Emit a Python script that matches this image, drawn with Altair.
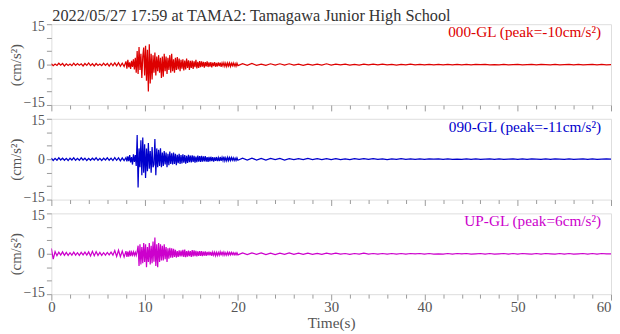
import altair as alt
import numpy as np
import pandas as pd

TITLE = "2022/05/27 17:59 at TAMA2: Tamagawa Junior High School"
Y_TITLE = "(cm/s²)"
X_TITLE = "Time(s)"

# sampling: 0-8 s every 0.2 s, 8-20 s every 0.1 s, 20-60 s every 0.5 s
T_PRE = np.round(np.arange(40) * 0.2, 2)
T_MAIN = np.round(8 + np.arange(120) * 0.1, 2)
T_TAIL = np.round(20 + np.arange(81) * 0.5, 2)
TIME = np.concatenate([T_PRE, T_MAIN, T_TAIL])

# ---- 000-GL (NS) ----
NS_LABEL = "000-GL (peak=-10cm/s²)"
NS_PRE = [0.3, -0.4, 0.2, -0.3, 0.5, -0.2, 0.4, -0.5, 0.3, -0.3,
          0.2, -0.4, 0.5, -0.3, 0.4, -0.2, 0.3, -0.5, 0.4, -0.3,
          0.6, -0.4, 0.3, -0.5, 0.4, -0.3, 0.2, -0.4, 0.5, -0.3,
          0.4, -0.6, 0.5, -0.4, 0.6, -0.5, 0.7, -0.6, 0.5, -0.7]
NS_MAIN = [1.2, -1.5, 1.8, -1.0, 0.8, -1.6, 1.4, -0.9, 2.0, -1.8,
           2.5, -3.0, 5.0, -3.5, 6.5, -2.0, 4.0, -5.0, 3.0, 6.3,
           -4.0, 7.0, -6.0, 5.5, -10.0, 7.5, -7.0, 4.0, -5.5, 3.5,
           -3.0, 4.5, -4.0, 3.0, -2.5, 3.5, -3.0, 2.5, -5.0, 3.0,
           -4.5, 4.0, -2.5, 3.0, -3.5, 2.5, -2.0, 3.5, -3.0, 4.0,
           -2.5, 2.0, -3.0, 2.5, -2.0, 2.8, -1.8, 2.2, -2.5, 1.8,
           -1.5, 2.0, -2.2, 1.5, -1.8, 2.2, -1.2, 1.6, -2.0, 1.4,
           -1.2, 1.5, -1.6, 1.2, -1.0, 1.8, -1.4, 1.0, -1.2, 1.3,
           -1.0, 1.2, -0.8, 1.0, -1.1, 0.9, -0.7, 1.2, -0.9, 0.8,
           -0.8, 0.9, -1.0, 0.7, -0.6, 0.9, -0.8, 0.6, -0.7, 0.8,
           -0.6, 0.7, -0.8, 0.6, -0.5, 0.7, -0.6, 0.5, -0.7, 0.6,
           -0.5, 0.6, -0.7, 0.5, -0.4, 0.6, -0.5, 0.4, -0.6, 0.5]
NS_TAIL = [-0.4, 0.3, -0.3, 0.4, -0.3, 0.2, -0.3, 0.3, -0.2, 0.3,
           -0.2, 0.3, -0.2, 0.2, -0.3, 0.2, -0.2, 0.2, -0.2, 0.3,
           -0.2, 0.2, -0.1, 0.2, -0.2, 0.1, -0.2, 0.2, -0.1, 0.2,
           -0.1, 0.2, -0.1, 0.1, -0.2, 0.1, -0.1, 0.2, -0.1, 0.1,
           -0.1, 0.1, -0.1, 0.1, -0.1, 0.1, -0.1, 0.1, -0.1, 0.1,
           -0.1, 0.1, 0.0, 0.1, -0.1, 0.0, -0.1, 0.1, -0.1, 0.0,
           0.1, -0.1, 0.0, 0.1, -0.1, 0.1, 0.0, -0.1, 0.1, -0.1,
           0.0, 0.1, -0.1, 0.1, -0.1, 0.0, 0.1, -0.1, 0.1, -0.1, 0.0]

# ---- 090-GL (EW) ----
EW_LABEL = "090-GL (peak=-11cm/s²)"
EW_PRE = [0.4, -0.5, 0.3, -0.4, 0.5, -0.3, 0.4, -0.4, 0.3, -0.5,
          0.4, -0.3, 0.5, -0.4, 0.3, -0.4, 0.5, -0.3, 0.4, -0.5,
          0.3, -0.4, 0.4, -0.3, 0.5, -0.4, 0.3, -0.5, 0.4, -0.3,
          0.5, -0.4, 0.4, -0.5, 0.6, -0.4, 0.5, -0.6, 0.5, -0.5]
EW_MAIN = [0.6, -0.8, 1.0, -0.7, 1.5, -1.2, 0.8, -2.0, 1.8, -1.0,
           1.5, -2.5, 9.0, -10.5, 4.0, -3.0, 7.0, -6.0, 8.0, -5.0,
           5.5, -7.0, 4.0, -4.5, 6.0, -3.5, 3.0, -5.0, 4.5, -3.0,
           -2.0, 7.5, -6.0, 4.0, -3.0, 3.5, -2.5, 4.0, -3.0, 2.5,
           -2.5, 3.0, -2.0, 2.5, -3.0, 2.0, -2.2, 2.8, -1.8, 2.2,
           -2.0, 2.5, -1.8, 2.0, -2.2, 1.6, -1.5, 2.0, -1.8, 1.5,
           -1.6, 1.8, -1.3, 1.5, -1.7, 1.2, -1.4, 1.6, -1.1, 1.3,
           -1.2, 1.4, -1.0, 1.2, -1.3, 1.0, -1.1, 1.3, -0.9, 1.1,
           -1.0, 1.2, -0.9, 1.0, -0.8, 1.1, -0.9, 0.8, -1.0, 0.9,
           -0.8, 0.9, -0.7, 0.8, -0.9, 0.7, -0.6, 0.8, -0.7, 0.6,
           -0.7, 0.8, -0.6, 0.7, -0.5, 0.9, -0.6, 0.5, -0.6, 0.7,
           -0.5, 0.6, -0.5, 0.6, -0.4, 0.5, -0.5, 0.4, -0.5, 0.5]
EW_TAIL = [-0.4, 0.4, -0.3, 0.4, -0.3, 0.3, -0.3, 0.3, -0.2, 0.3,
           -0.3, 0.2, -0.2, 0.2, -0.2, 0.3, -0.2, 0.2, -0.2, 0.2,
           -0.2, 0.2, -0.2, 0.1, -0.2, 0.2, -0.1, 0.2, -0.1, 0.2,
           -0.1, 0.1, -0.2, 0.1, -0.1, 0.2, -0.1, 0.1, -0.1, 0.1,
           -0.1, 0.1, 0.0, 0.1, -0.1, 0.1, -0.1, 0.0, -0.1, 0.1,
           -0.1, 0.1, -0.1, 0.0, 0.1, -0.1, 0.1, -0.1, 0.0, 0.1,
           -0.1, 0.1, -0.1, 0.1, 0.0, -0.1, 0.1, -0.1, 0.1, 0.0,
           -0.1, 0.1, -0.1, 0.0, 0.1, -0.1, 0.1, -0.1, 0.0, 0.1, 0.0]

# ---- UP-GL (UD) ----
UD_LABEL = "UP-GL (peak=6cm/s²)"
UD_PRE = [2.0, -2.0, 0.8, -0.7, 0.6, -0.5, 0.7, -0.6, 0.5, -0.6,
          0.4, -0.5, 0.6, -0.5, 0.4, -0.6, 0.5, -0.4, 0.6, -0.5,
          0.7, -0.8, 0.9, -0.7, 0.8, -0.6, 0.5, -0.6, 0.4, -0.5,
          0.5, -0.4, 0.6, -0.5, 1.2, -1.0, 1.3, -1.1, 1.0, -1.2]
UD_MAIN = [1.0, -1.2, 0.8, -1.1, 1.2, -0.9, 0.6, -0.5, 0.7, -0.6,
           0.5, -0.6, 0.8, 3.0, -4.5, 3.5, -4.0, 2.5, -3.5, 4.0,
           -3.0, 3.5, -5.0, 2.5, -3.0, 4.0, -4.0, 3.0, -3.5, 4.5,
           -3.0, 6.0, -4.5, 3.5, -5.0, 4.0, -3.0, 3.5, -2.5, 3.0,
           -2.5, 3.5, -2.0, 2.5, -3.0, 2.0, -1.8, 2.2, -1.5, 2.0,
           -1.5, 1.8, -1.2, 1.5, -1.4, 1.0, -1.2, 1.3, -1.0, 1.2,
           -1.0, 1.5, -1.2, 1.6, -1.3, 1.0, -1.1, 1.2, -0.9, 1.0,
           -1.2, 1.4, -1.0, 1.3, -0.9, 1.1, -1.0, 0.9, -0.8, 1.0,
           -0.8, 1.0, -0.9, 0.8, -0.7, 0.9, -0.8, 0.7, -0.6, 0.8,
           -0.6, 0.7, -0.8, 0.6, -0.5, 0.6, -0.7, 0.5, -0.6, 0.5,
           -0.5, 0.7, -0.6, 0.8, -0.5, 0.6, -0.5, 0.4, -0.5, 0.6,
           -0.4, 0.5, -0.4, 0.5, -0.3, 0.4, -0.4, 0.3, -0.4, 0.4]
UD_TAIL = [-0.4, 0.3, -0.3, 0.3, -0.2, 0.3, -0.3, 0.2, -0.3, 0.2,
           -0.2, 0.3, -0.2, 0.2, -0.2, 0.2, -0.2, 0.1, -0.2, 0.2,
           -0.1, 0.2, -0.1, 0.1, -0.2, 0.1, -0.1, 0.2, -0.1, 0.1,
           -0.1, 0.1, -0.1, 0.1, -0.1, 0.1, -0.1, 0.1, 0.0, 0.1,
           -0.1, 0.1, -0.1, 0.0, -0.1, 0.1, -0.1, 0.1, 0.0, 0.1,
           -0.1, 0.0, 0.1, -0.1, 0.1, -0.1, 0.0, 0.1, -0.1, 0.1,
           -0.1, 0.1, 0.0, -0.1, 0.1, -0.1, 0.1, 0.0, -0.1, 0.1,
           -0.1, 0.1, -0.1, 0.0, 0.1, -0.1, 0.1, -0.1, 0.1, 0.0, 0.0]

COLORS = ["#dd0000", "#0000cc", "#cc00cc"]

FONT = "Liberation Serif"
W, H = 568, 82
GRAY = "#999999"
LABEL_GRAY = "#555555"


def panel(label, values, color, first=False, last=False):
    df = pd.DataFrame({"t": TIME, "a": values})
    xaxis = alt.Axis(
        values=list(range(0, 61, 2)),
        labelExpr="datum.value % 10 == 0 ? datum.label : ''",
        labels=last,
        grid=False,
        domain=False,
        tickColor=GRAY,
        tickSize={"condition": {"test": "datum.value % 10 == 0", "value": 6}, "value": 4},
        labelFont=FONT,
        labelFontSize=15,
        labelColor=LABEL_GRAY,
        labelPadding=0,
        labelAlign={"condition": {"test": "datum.value >= 60", "value": "right"}, "value": "center"},
        titleFont=FONT,
        titleFontSize=15.5,
        titleFontWeight="normal",
        titleColor=LABEL_GRAY,
        titlePadding=1,
    )
    yaxis = alt.Axis(
        values=[-15, -10, -5, 0, 5, 10, 15],
        labelExpr="datum.value % 15 == 0 ? datum.label : ''",
        grid=False,
        domain=False,
        tickColor=GRAY,
        tickSize=5,
        labelFont=FONT,
        labelFontSize=14,
        labelColor=LABEL_GRAY,
        labelPadding=2,
        labelOffset={"condition": [{"test": "datum.value == -15", "value": -2},
                                   {"test": "datum.value == 15", "value": 2}],
                     "value": 0},
        title=Y_TITLE,
        titleFont=FONT,
        titleFontSize=15,
        titleFontWeight="normal",
        titleColor=LABEL_GRAY,
        titleX=-28,
        titleY=H / 2,
        titleAngle=270,
        titleAlign="center",
        titleBaseline="bottom",
    )
    base = alt.Chart(df)
    line = base.mark_line(color=color, strokeWidth=1.25, clip=True).encode(
        x=alt.X("t:Q", scale=alt.Scale(domain=[0, 60], nice=False, zero=False),
                axis=xaxis, title=X_TITLE if last else ""),
        y=alt.Y("a:Q", scale=alt.Scale(domain=[-15, 15], nice=False, zero=False),
                axis=yaxis),
    )
    lab = alt.Chart(pd.DataFrame({"s": [label]})).mark_text(
        align="right", baseline="alphabetic", font=FONT, fontSize=15.5, color=color
    ).encode(x=alt.value(W - 10), y=alt.value(13), text="s:N")
    layers = [line, lab]
    if first:
        ttl = alt.Chart(pd.DataFrame({"s": [TITLE]})).mark_text(
            align="left", baseline="alphabetic", font=FONT, fontSize=16.5, color="#333333"
        ).encode(x=alt.value(1), y=alt.value(-3), text="s:N")
        layers.append(ttl)
    return alt.layer(*layers).properties(width=W, height=H)


p1 = panel(NS_LABEL, NS_PRE + NS_MAIN + NS_TAIL, COLORS[0], first=True)
p2 = panel(EW_LABEL, EW_PRE + EW_MAIN + EW_TAIL, COLORS[1])
p3 = panel(UD_LABEL, UD_PRE + UD_MAIN + UD_TAIL, COLORS[2], last=True)

chart = alt.vconcat(p1, p2, p3, spacing=14, bounds="flush").properties(
    padding={"left": 0, "top": -3, "right": 0, "bottom": 0}
).configure_view(stroke=GRAY, strokeWidth=1).configure(background="white")

chart.save("out.html", embed_options={"renderer": "svg", "actions": False})
